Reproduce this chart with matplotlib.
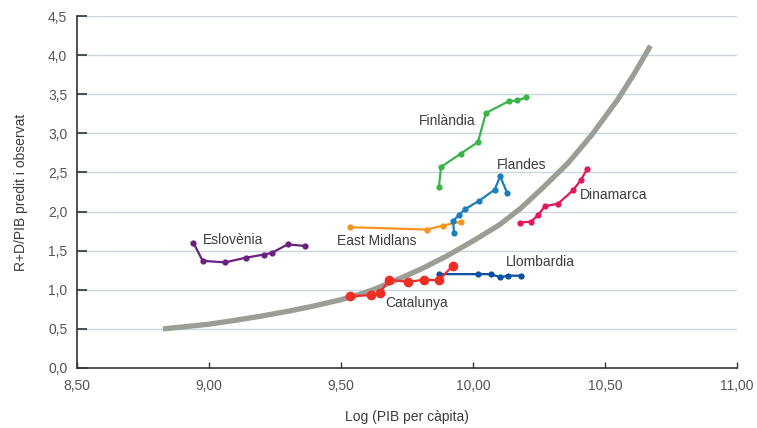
import matplotlib as mpl
mpl.use('Agg')
import matplotlib.pyplot as plot
import matplotlib.ticker as ticker

# predicted curve
CURVE_X = [8.826, 8.90, 9.00, 9.10, 9.20, 9.307, 9.40, 9.496, 9.56, 9.621, 9.70, 9.80, 9.90,
           10.008, 10.10, 10.18, 10.26, 10.36, 10.45, 10.55, 10.61, 10.652, 10.672]
CURVE_Y = [0.50, 0.525, 0.56, 0.61, 0.665, 0.73, 0.795, 0.87, 0.93, 1.00, 1.11, 1.26, 1.43,
           1.64, 1.83, 2.04, 2.29, 2.62, 2.98, 3.44, 3.76, 4.00, 4.12]

ESLOVENIA_X = [8.941, 8.976, 9.061, 9.139, 9.208, 9.237, 9.298, 9.365]
ESLOVENIA_Y = [1.60, 1.37, 1.35, 1.41, 1.45, 1.47, 1.58, 1.56]

EAST_MIDLANS_X = [9.534, 9.825, 9.885, 9.953]
EAST_MIDLANS_Y = [1.80, 1.77, 1.82, 1.87]

FLANDES_X = [9.928, 9.925, 9.948, 9.970, 10.024, 10.082, 10.103, 10.129]
FLANDES_Y = [1.72, 1.88, 1.96, 2.03, 2.14, 2.28, 2.45, 2.24]

FINLANDIA_X = [9.871, 9.879, 9.953, 10.019, 10.049, 10.135, 10.168, 10.202]
FINLANDIA_Y = [2.32, 2.57, 2.74, 2.89, 3.26, 3.41, 3.42, 3.46]

DINAMARCA_X = [10.179, 10.219, 10.245, 10.273, 10.322, 10.378, 10.408, 10.432]
DINAMARCA_Y = [1.86, 1.87, 1.95, 2.07, 2.10, 2.27, 2.40, 2.54]

LLOMBARDIA_X = [9.871, 10.020, 10.067, 10.103, 10.131, 10.183]
LLOMBARDIA_Y = [1.20, 1.20, 1.20, 1.16, 1.18, 1.18]

CATALUNYA_X = [9.534, 9.614, 9.647, 9.683, 9.754, 9.816, 9.870, 9.924]
CATALUNYA_Y = [0.92, 0.93, 0.96, 1.13, 1.10, 1.13, 1.12, 1.31]

X_TICKS = [8.5, 9.0, 9.5, 10.0, 10.5, 11.0]
Y_TICKS = [0.0, 0.5, 1.0, 1.5, 2.0, 2.5, 3.0, 3.5, 4.0, 4.5]

X_LABEL = "Log (PIB per càpita)"
Y_LABEL = "R+D/PIB predit i observat"

TEXT_COLOR = '#3c3c3c'
GRID_COLOR = '#c9d8de'
CURVE_COLOR = '#9b9e95'
FONT_SIZE = 10

mpl.rcParams['font.family'] = ['Liberation Sans', 'DejaVu Sans']

fig = plot.figure(figsize=(7.57, 4.28), dpi=100)
ax = fig.add_axes([0.1017, 0.1402, 0.8719, 0.8224])

ax.plot(CURVE_X, CURVE_Y, color=CURVE_COLOR, linewidth=3.8, solid_capstyle='butt',
        solid_joinstyle='round', zorder=2)

series = [
    (ESLOVENIA_X, ESLOVENIA_Y, '#6b2180', 4.5, "Eslovènia", 8.975, 1.63),
    (EAST_MIDLANS_X, EAST_MIDLANS_Y, '#f7941d', 4.5, "East Midlans", 9.484, 1.625),
    (FLANDES_X, FLANDES_Y, '#1a7fbf', 4.5, "Flandes", 10.09, 2.60),
    (FINLANDIA_X, FINLANDIA_Y, '#39b54a', 4.5, "Finlàndia", 9.795, 3.16),
    (DINAMARCA_X, DINAMARCA_Y, '#e2185b', 4.5, "Dinamarca", 10.403, 2.21),
    (LLOMBARDIA_X, LLOMBARDIA_Y, '#0c4fa3', 4.5, "Llombardia", 10.125, 1.35),
    (CATALUNYA_X, CATALUNYA_Y, '#ee2d24', 7.0, "Catalunya", 9.667, 0.835),
]

for xs, ys, color, msize, name, tx, ty in series:
    ax.plot(xs, ys, color=color, linewidth=1.6, marker='o', markersize=msize,
            markeredgewidth=0, zorder=3)
    ax.text(tx, ty, name, fontsize=FONT_SIZE, color=TEXT_COLOR, ha='left', va='center', zorder=4)

ax.set_xlim(8.5, 11.0)
ax.set_ylim(0, 4.5)
ax.set_xticks(X_TICKS)
ax.set_yticks(Y_TICKS)
ax.xaxis.set_major_formatter(ticker.FuncFormatter(lambda v, p: ('%.2f' % v).replace('.', ',')))
ax.yaxis.set_major_formatter(ticker.FuncFormatter(lambda v, p: ('%.1f' % v).replace('.', ',')))

for y in Y_TICKS[1:]:
    ax.axhline(y, color=GRID_COLOR, linewidth=1.0, zorder=1)

for side in ['top', 'right']:
    ax.spines[side].set_visible(False)
for side in ['left', 'bottom']:
    ax.spines[side].set_color('#333333')
    ax.spines[side].set_linewidth(1.2)

ax.tick_params(axis='y', direction='in', length=7.5, width=1.2, color='#333333',
               labelsize=FONT_SIZE, labelcolor='#555555', pad=7)
ax.tick_params(axis='x', direction='in', length=4.5, width=1.0, color='#333333',
               labelsize=FONT_SIZE, labelcolor='#555555', pad=8)

ax.set_xlabel(X_LABEL, fontsize=FONT_SIZE, color=TEXT_COLOR, labelpad=12)
ax.set_ylabel(Y_LABEL, fontsize=FONT_SIZE, color=TEXT_COLOR, labelpad=14)

plot.savefig('out.png', dpi=100)
